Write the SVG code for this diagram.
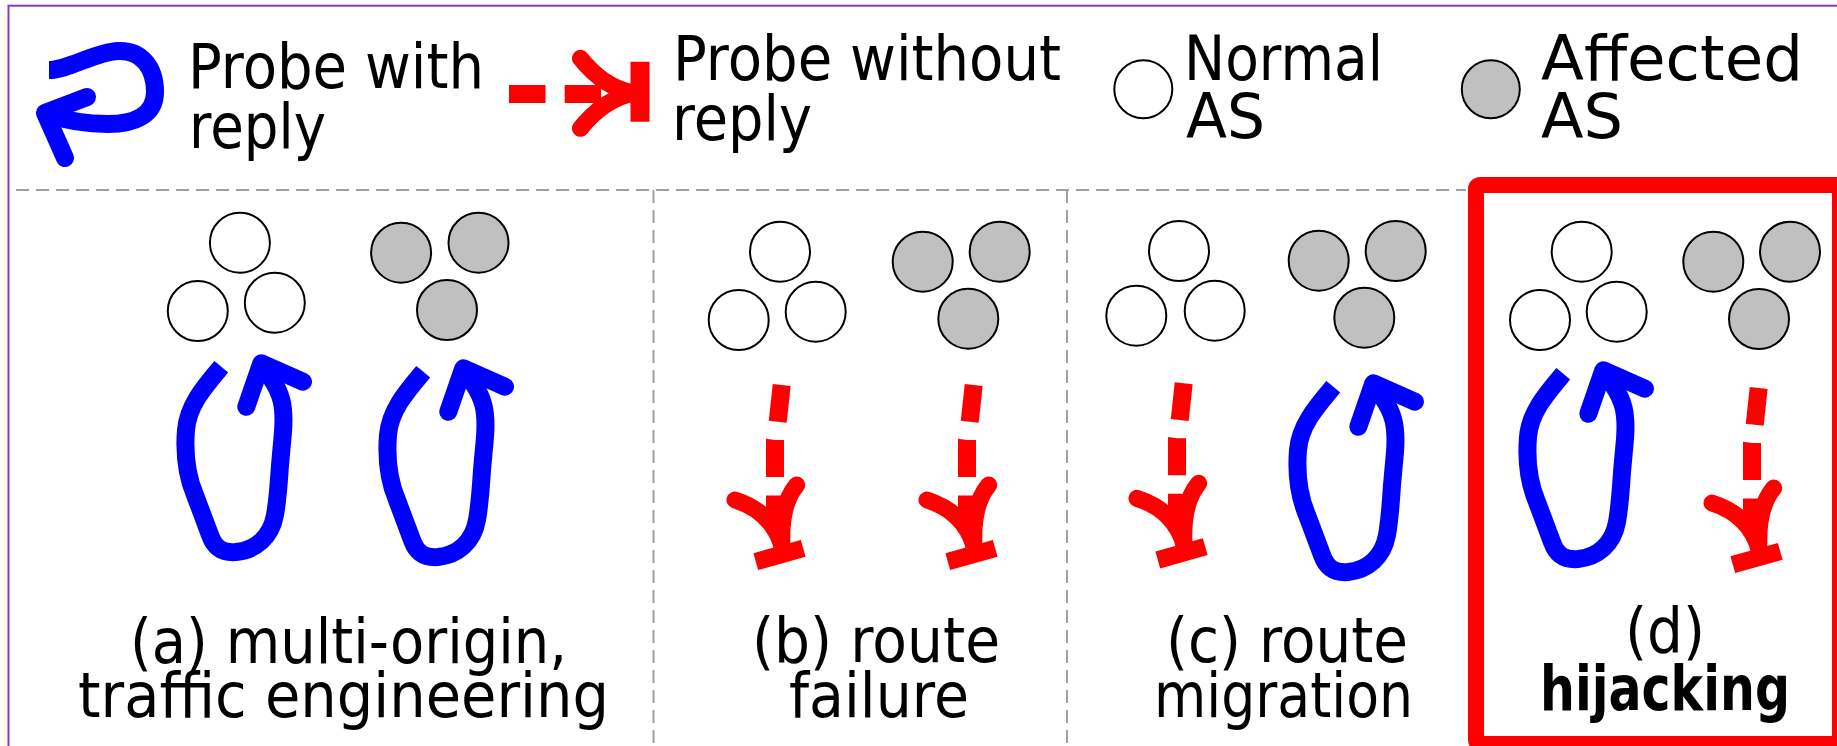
<svg xmlns="http://www.w3.org/2000/svg" xmlns:xlink="http://www.w3.org/1999/xlink" width="1837" height="746" viewBox="0 0 1837 746">
  <style>
    .lbl { font-family: 'Comic Sans MS', 'DejaVu Sans', sans-serif; font-size: 62px; fill: #000; }
    .bold { font-weight: bold; }
    .as-n { fill: #ffffff; stroke: #000; stroke-width: 2; }
    .as-a { fill: #c0c0c0; stroke: #000; stroke-width: 2; }
    .reply { fill: none; stroke: #0000ff; stroke-width: 18; stroke-linejoin: round; }
    .reply-main { stroke-linecap: butt; }
    .reply-head { stroke-linecap: round; }
    .lost { fill: none; stroke: #ff0000; }
    .lost-shaft { stroke-width: 18; stroke-dasharray: 36.9 18.5; stroke-linecap: butt; }
    .lost-arm { stroke-width: 17; stroke-linecap: round; }
    .lost-tee { stroke-width: 17.5; stroke-linecap: butt; }
    .sep { fill: none; stroke: #a0a0a0; stroke-width: 2; stroke-dasharray: 13 7; }
  </style>
  <defs>
    <!-- probe that comes back: open loop ending in an arrowhead -->
    <g id="loop">
      <path class="reply reply-main" d="M 221.3 366.7 C 205 386, 188 405, 186 430 C 184 455, 187 476, 195 495 L 210 535 C 215 549, 223 553, 236 552 C 256 550, 271 537, 275 515 C 278 498, 279 480, 280 465 L 283 432 C 285 405, 281 393, 271 378 L 262 364"/>
      <path class="reply reply-head" d="M 246.3 406.7 L 261.3 363.3 L 303 381.7"/>
    </g>
    <!-- probe that is lost: dashed shaft, arrowhead and stop bar -->
    <g id="drop">
      <path class="lost lost-shaft" d="M 781.7 385 L 777.7 421.7 L 775 440 L 775 540"/>
      <path class="lost lost-arm" d="M 735 500 Q 772 512 782 546"/>
      <path class="lost lost-arm" d="M 796.7 485 Q 780 505 782 546"/>
      <path class="lost lost-tee" d="M 755.8 561.7 L 803.2 548.3"/>
    </g>
  </defs>

  <rect width="1837" height="746" fill="#ffffff"/>

  <!-- outer frame -->
  <rect x="8.5" y="5.7" width="1840" height="750" fill="none" stroke="#7f3fbf" stroke-width="2"/>

  <!-- panel separators -->
  <g id="separators">
    <line class="sep" x1="16" y1="190" x2="1466" y2="190"/>
    <line class="sep" x1="653.5" y1="190" x2="653.5" y2="746"/>
    <line class="sep" x1="1067" y1="190" x2="1067" y2="746"/>
  </g>

  <!-- highlight frame of panel (d) -->
  <rect id="highlight" x="1476" y="185" width="364" height="559" rx="4" fill="none" stroke="#ff0000" stroke-width="16"/>

  <!-- legend -->
  <g id="legend">
    <g id="legend-reply">
      <path class="reply reply-main" d="M 49 70 C 68 70, 95 52, 118 51 C 142 50, 155 68, 155 92 C 155 115, 135 124, 108 124 C 85 124, 64 120, 46 114"/>
      <path class="reply reply-head" d="M 87 97 L 45 113 L 65 158"/>
      <text class="lbl" x="188" y="88" textLength="296" lengthAdjust="spacingAndGlyphs">Probe with</text>
      <text class="lbl" x="189" y="148" textLength="137" lengthAdjust="spacingAndGlyphs">reply</text>
    </g>
    <g id="legend-noreply">
      <line class="lost" stroke-width="18" x1="509" y1="94" x2="545.5" y2="94"/>
      <line class="lost" stroke-width="18" x1="564.7" y1="94" x2="601" y2="94"/>
      <path class="lost lost-arm" d="M 580.4 58.3 Q 604 88 634 93"/>
      <path class="lost lost-arm" d="M 580.4 128.3 Q 604 99 634 93"/>
      <line class="lost lost-tee" x1="640" y1="61.7" x2="640" y2="121.7" style="stroke-width:19"/>
      <text class="lbl" x="673" y="80" textLength="388" lengthAdjust="spacingAndGlyphs">Probe without</text>
      <text class="lbl" x="672" y="140" textLength="140" lengthAdjust="spacingAndGlyphs">reply</text>
    </g>
    <g id="legend-normal">
      <circle class="as-n" cx="1143.3" cy="89.3" r="29"/>
      <text class="lbl" x="1184" y="80" textLength="199" lengthAdjust="spacingAndGlyphs">Normal</text>
      <text class="lbl" x="1186" y="138" textLength="79" lengthAdjust="spacingAndGlyphs">AS</text>
    </g>
    <g id="legend-affected">
      <circle class="as-a" cx="1490.8" cy="89.3" r="29"/>
      <text class="lbl" x="1541" y="80" textLength="262" lengthAdjust="spacingAndGlyphs">Affected</text>
      <text class="lbl" x="1541" y="138" textLength="82" lengthAdjust="spacingAndGlyphs">AS</text>
    </g>
  </g>

  <!-- AS clusters -->
  <g id="panel-a-normal">
    <circle class="as-n" cx="239.9" cy="242.7" r="30"/>
    <circle class="as-n" cx="197.8" cy="311" r="30"/>
    <circle class="as-n" cx="274.8" cy="302.7" r="30"/>
  </g>
  <g id="panel-a-affected">
    <circle class="as-a" cx="401.1" cy="252.7" r="30"/>
    <circle class="as-a" cx="478.5" cy="242.7" r="30"/>
    <circle class="as-a" cx="447" cy="310" r="30"/>
  </g>
  <g id="panel-b-normal">
    <circle class="as-n" cx="780" cy="251.7" r="30"/>
    <circle class="as-n" cx="738.7" cy="320" r="30"/>
    <circle class="as-n" cx="815.7" cy="311.7" r="30"/>
  </g>
  <g id="panel-b-affected">
    <circle class="as-a" cx="922.7" cy="261.7" r="30"/>
    <circle class="as-a" cx="999.7" cy="251.7" r="30"/>
    <circle class="as-a" cx="968.3" cy="318.7" r="30"/>
  </g>
  <g id="panel-c-normal">
    <circle class="as-n" cx="1179" cy="251" r="30"/>
    <circle class="as-n" cx="1136.3" cy="315.7" r="30"/>
    <circle class="as-n" cx="1214.7" cy="310.7" r="30"/>
  </g>
  <g id="panel-c-affected">
    <circle class="as-a" cx="1318.7" cy="260.7" r="30"/>
    <circle class="as-a" cx="1395.7" cy="251" r="30"/>
    <circle class="as-a" cx="1364.3" cy="317.7" r="30"/>
  </g>
  <g id="panel-d-normal">
    <circle class="as-n" cx="1581.7" cy="251.7" r="30"/>
    <circle class="as-n" cx="1540" cy="320" r="30"/>
    <circle class="as-n" cx="1616.7" cy="311.7" r="30"/>
  </g>
  <g id="panel-d-affected">
    <circle class="as-a" cx="1713.3" cy="261.7" r="30"/>
    <circle class="as-a" cx="1790" cy="251.7" r="30"/>
    <circle class="as-a" cx="1759" cy="319" r="30"/>
  </g>

  <!-- probes -->
  <g id="connectors">
    <use xlink:href="#loop"/>
    <use xlink:href="#loop" transform="translate(202 5)"/>
    <use xlink:href="#drop"/>
    <use xlink:href="#drop" transform="translate(192 0)"/>
    <use xlink:href="#drop" transform="translate(402 -1.7)"/>
    <use xlink:href="#loop" transform="translate(1112 20)"/>
    <use xlink:href="#loop" transform="translate(1342 7)"/>
    <use xlink:href="#drop" transform="translate(977 3)"/>
  </g>

  <!-- captions -->
  <g id="captions">
    <text class="lbl" x="130" y="663" textLength="437" lengthAdjust="spacingAndGlyphs">(a) multi-origin,</text>
    <text class="lbl" x="78" y="717" textLength="531" lengthAdjust="spacingAndGlyphs">traffic engineering</text>
    <text class="lbl" x="752" y="662" textLength="248" lengthAdjust="spacingAndGlyphs">(b) route</text>
    <text class="lbl" x="789" y="717" textLength="180" lengthAdjust="spacingAndGlyphs">failure</text>
    <text class="lbl" x="1166" y="662" textLength="242" lengthAdjust="spacingAndGlyphs">(c) route</text>
    <text class="lbl" x="1154" y="717" textLength="259" lengthAdjust="spacingAndGlyphs">migration</text>
    <text class="lbl" x="1625" y="652" textLength="80" lengthAdjust="spacingAndGlyphs">(d)</text>
    <text class="lbl bold" x="1540" y="710" textLength="250" lengthAdjust="spacingAndGlyphs">hijacking</text>
  </g>
</svg>
